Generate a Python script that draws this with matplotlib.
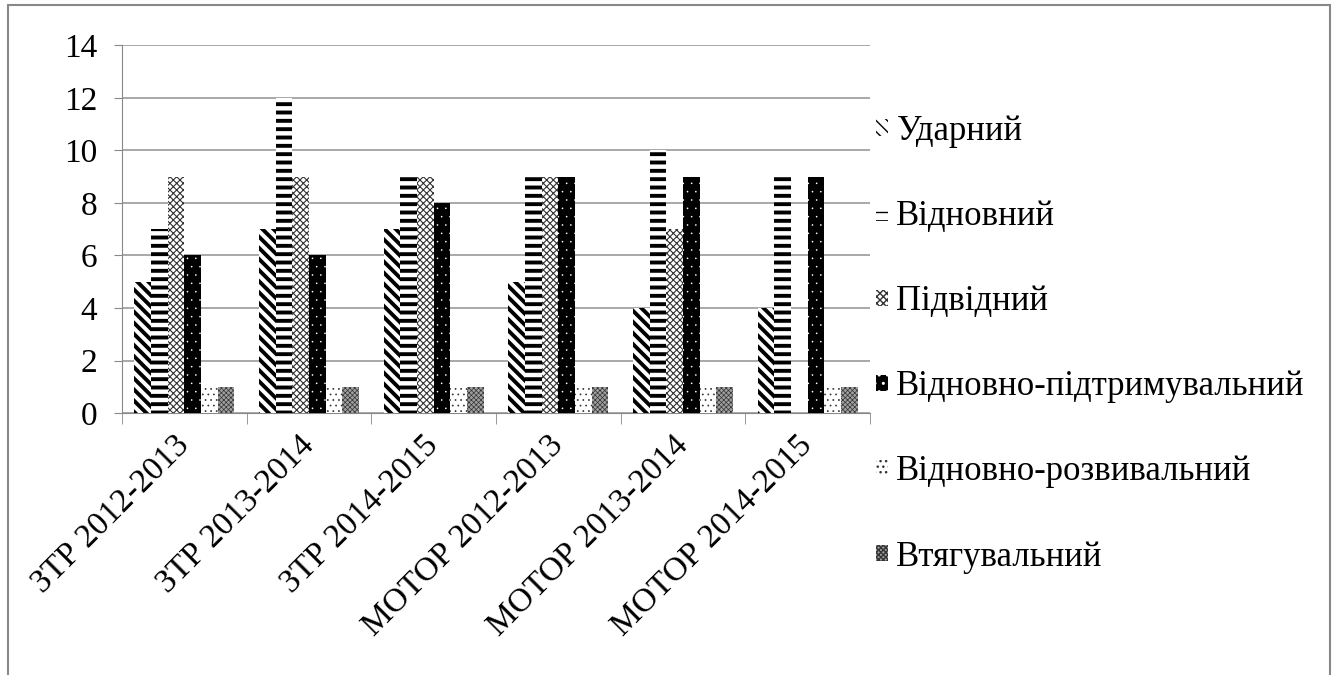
import numpy as np
import matplotlib
matplotlib.use('Agg')
import matplotlib.pyplot as plt
from matplotlib.patches import Rectangle

plt.rcParams['font.family'] = ['Liberation Serif', 'DejaVu Serif']

#categories and series
categories = ['ЗТР 2012-2013', 'ЗТР 2013-2014', 'ЗТР 2014-2015',
              'МОТОР 2012-2013', 'МОТОР 2013-2014', 'МОТОР 2014-2015']
series_names = ['Ударний', 'Відновний', 'Підвідний',
                'Відновно-підтримувальний', 'Відновно-розвивальний', 'Втягувальний']
udarnyi = [5, 7, 7, 5, 4, 4]
vidnovnyi = [7, 12, 9, 9, 10, 9]
pidvidnyi = [9, 9, 9, 9, 7, 0]
vidn_pidtr = [6, 6, 8, 9, 9, 9]
vidn_rozv = [1, 1, 1, 1, 1, 1]
vtyag = [1, 1, 1, 1, 1, 1]
yticks = [0, 2, 4, 6, 8, 10, 12, 14]

series = [udarnyi, vidnovnyi, pidvidnyi, vidn_pidtr, vidn_rozv, vtyag]
#facecolor, hatch colour, hatch, hatch linewidth
styles = [
    ('white', 'black', '\\' * 3, 2.8),
    ('white', 'black', '--', 2.8),
    ('white', '#333333', 'xxxxx', 0.8),
    ('black', 'white', '..', 0.0),
    ('white', '#333333', '...', 0.5),
    ('#a0a0a0', '#333333', 'xxxxxxx', 0.5),
]

fig = plt.figure(figsize=(13.38, 6.75), dpi=100)
ax = fig.add_axes([0.0912, 0.388, 0.5590, 0.545])

x = np.arange(len(categories))
w = 1 / 7.5
handles = []
for i, (vals, st) in enumerate(zip(series, styles)):
    fc, hc, hatch, hlw = st
    with plt.rc_context({'hatch.linewidth': hlw}):
        b = ax.bar(x - 2.5 * w + i * w, vals, w, facecolor=fc, edgecolor=hc,
                   hatch=hatch, linewidth=0, label=series_names[i], zorder=3)
    handles.append(b)

ax.set_xlim(-0.5, len(categories) - 0.5)
ax.set_ylim(0, 14)
ax.set_yticks(yticks)
ax.tick_params(axis='y', labelsize=24, length=6, color='#888888', pad=12)
ax.set_xticks(x)
ax.set_xticklabels(categories, rotation=45, ha='right', va='center',
                   rotation_mode='anchor', fontsize=24)
ax.tick_params(axis='x', length=0, pad=20)
ax.set_xticks(np.arange(-0.5, len(categories)), minor=True)
ax.tick_params(axis='x', which='minor', length=8, color='#888888')
ax.grid(axis='y', color='#999999', linewidth=1.2, zorder=0)
for s in ['top', 'right']:
    ax.spines[s].set_visible(False)
ax.spines['left'].set_color('#888888')
ax.spines['bottom'].set_color('#888888')

fig.legend(handles=handles, loc='upper left', bbox_to_anchor=(0.644, 0.85),
           frameon=False, fontsize=25, handlelength=0.35, handleheight=0.35,
           handletextpad=0.25, labelspacing=1.5, borderaxespad=0)

fig.patches.append(Rectangle((0.006, -0.01), 0.988, 1.002, transform=fig.transFigure,
                             fill=False, edgecolor='#888888', linewidth=1.5))

fig.savefig('out.png', dpi=100)
